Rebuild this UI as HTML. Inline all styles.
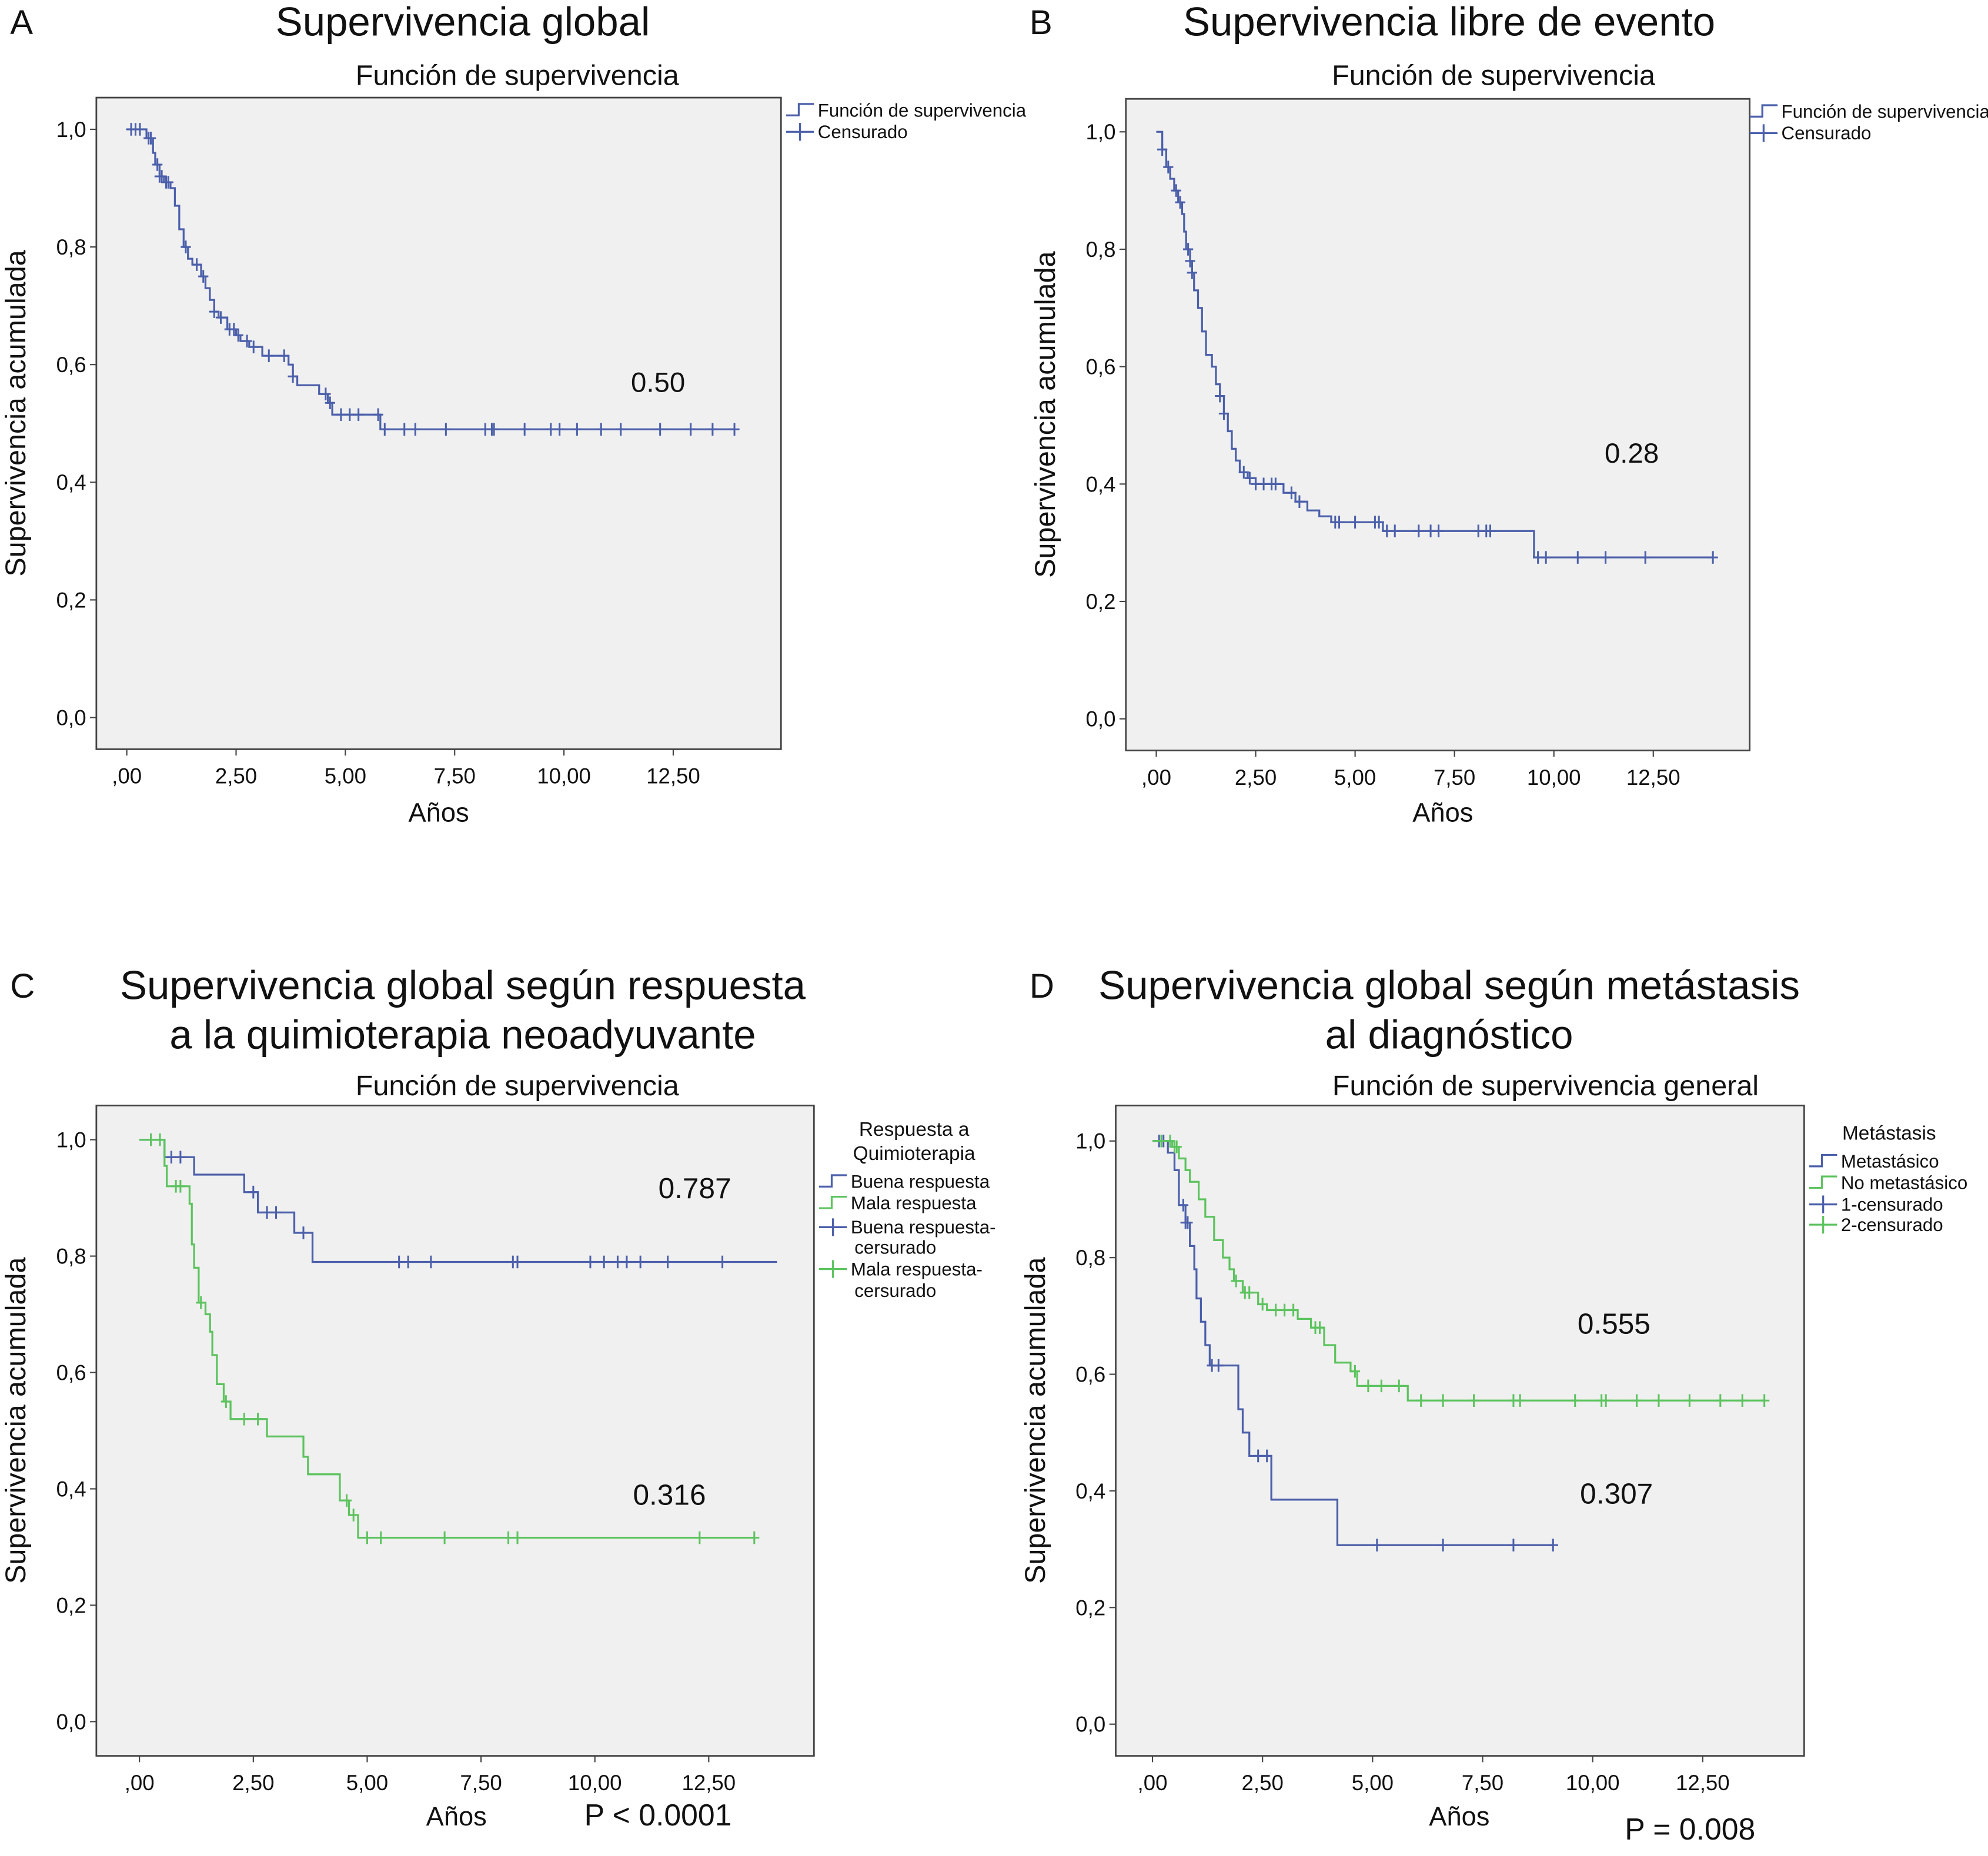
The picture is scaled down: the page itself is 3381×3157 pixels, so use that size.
<!DOCTYPE html>
<html><head><meta charset="utf-8">
<style>
html,body{margin:0;padding:0;background:#fff;}
svg{display:block;}
text{font-family:"Liberation Sans",Arial,sans-serif;fill:#111;}
</style></head>
<body>
<svg id="fig" width="3381" height="3157" viewBox="0 0 1568 1464" preserveAspectRatio="none" xmlns="http://www.w3.org/2000/svg"></svg>
<script>
// ---- Data (years, cumulative survival) ----
const xTicks = [0, 2.5, 5, 7.5, 10, 12.5];
const xTickLabels = [",00", "2,50", "5,00", "7,50", "10,00", "12,50"];
const yTicks = [0, 0.2, 0.4, 0.6, 0.8, 1.0];
const yTickLabels = ["0,0", "0,2", "0,4", "0,6", "0,8", "1,0"];

const aTimes = [0,0.45,0.6,0.65,0.75,0.85,1.0,1.1,1.2,1.3,1.4,1.5,1.7,1.8,1.9,2.0,2.1,2.3,2.5,2.6,2.8,3.1,3.7,3.8,3.9,4.4,4.6,4.7,5.8];
const aSurv  = [1,0.985,0.96,0.94,0.92,0.91,0.90,0.87,0.83,0.80,0.78,0.77,0.75,0.73,0.71,0.69,0.68,0.66,0.65,0.64,0.63,0.615,0.60,0.58,0.565,0.55,0.535,0.515,0.49];
const aCens  = [0.1,0.2,0.3,0.5,0.55,0.7,0.75,0.8,0.9,0.95,1.35,1.6,1.75,2.0,2.15,2.35,2.45,2.55,2.75,2.9,3.25,3.6,3.8,4.55,4.65,4.9,5.1,5.3,5.75,5.9,6.35,6.6,7.3,8.2,8.35,8.4,9.1,9.7,9.9,10.3,10.85,11.3,12.2,12.9,13.4,13.9];

const bTimes = [0,0.15,0.25,0.35,0.45,0.55,0.65,0.7,0.75,0.85,0.9,0.95,1.05,1.15,1.25,1.4,1.5,1.6,1.7,1.8,1.9,2.0,2.1,2.3,2.5,3.2,3.5,3.8,4.1,4.4,5.7,9.5];
const bSurv  = [1,0.97,0.94,0.92,0.90,0.88,0.86,0.83,0.80,0.78,0.76,0.73,0.70,0.66,0.62,0.60,0.57,0.55,0.52,0.49,0.46,0.44,0.42,0.41,0.40,0.385,0.37,0.355,0.345,0.335,0.32,0.275];
const bCens  = [0.15,0.3,0.5,0.6,0.8,0.85,0.9,1.6,1.7,2.2,2.35,2.5,2.7,2.9,3.0,3.4,3.6,4.5,4.6,5.0,5.5,5.6,5.8,6.0,6.6,6.9,7.1,8.1,8.3,8.4,9.6,9.8,10.6,11.3,12.3,14.0];

const cGoodTimes = [0,0.55,1.2,2.3,2.6,3.4,3.8];
const cGoodSurv  = [1,0.97,0.94,0.91,0.875,0.84,0.79];
const cGoodCens  = [0.7,0.9,2.5,2.8,3.0,3.6,5.7,5.9,6.4,8.2,8.3,9.9,10.2,10.5,10.7,11.0,11.6,12.8];
const cBadTimes = [0,0.55,0.6,1.1,1.15,1.2,1.3,1.45,1.55,1.6,1.7,1.85,2.0,2.8,3.6,3.7,4.4,4.6,4.8];
const cBadSurv  = [1,0.955,0.92,0.89,0.82,0.78,0.72,0.70,0.67,0.63,0.58,0.55,0.52,0.49,0.455,0.425,0.38,0.355,0.316];
const cBadCens  = [0.25,0.45,0.8,0.9,1.35,1.9,2.3,2.6,4.55,4.7,5.0,5.3,6.7,8.1,8.3,12.3,13.5];

const dMetTimes = [0,0.35,0.5,0.6,0.75,0.85,0.95,1.0,1.1,1.2,1.3,1.95,2.05,2.2,2.7,4.2];
const dMetSurv  = [1,0.98,0.95,0.89,0.86,0.82,0.78,0.73,0.69,0.65,0.615,0.54,0.50,0.46,0.385,0.307];
const dMetCens  = [0.15,0.25,0.7,0.75,0.8,1.35,1.5,2.4,2.6,5.1,6.6,8.2,9.1];
const dNoTimes = [0,0.45,0.6,0.75,0.85,1.05,1.2,1.4,1.6,1.75,1.85,2.05,2.4,2.6,3.3,3.6,3.9,4.15,4.5,4.65,5.8];
const dNoSurv  = [1,0.99,0.97,0.95,0.93,0.90,0.87,0.83,0.80,0.78,0.76,0.74,0.72,0.71,0.695,0.68,0.65,0.62,0.605,0.58,0.555];
const dNoCens  = [0.2,0.4,0.5,0.55,1.9,2.1,2.2,2.5,2.8,3.0,3.2,3.7,3.8,4.6,4.9,5.2,5.6,6.1,6.6,7.3,8.2,8.35,9.6,10.2,10.3,11.0,11.5,12.2,12.9,13.4,13.9];

const BLUE = "#4b5faa", GREEN = "#5cc35e";
const svg = document.getElementById('fig');
const NS = "http://www.w3.org/2000/svg";
function el(tag, attrs, parent, txt){
  const e = document.createElementNS(NS, tag);
  for (const k in attrs) e.setAttribute(k, attrs[k]);
  if (txt !== undefined) e.textContent = txt;
  (parent || svg).appendChild(e);
  return e;
}
function survAt(times, surv, t){ let s = surv[0]; for (let i=0;i<times.length;i++){ if (times[i] <= t) s = surv[i]; } return s; }

function panel(p){
  const g = el('g', {});  
  const X = v => p.x0 + v * (p.x125 - p.x0) / 12.5;
  const Y = v => p.y0 + v * (p.y1 - p.y0);
  const fr = el('rect', {x:p.fx1, y:p.fy1, width:p.fx2-p.fx1, height:p.fy2-p.fy1, fill:'#f0f0f0', stroke:'#444', 'stroke-width':1.3}, g);
   
  yTicks.forEach((v,i)=>{
    el('line',{x1:p.fx1-5,x2:p.fx1,y1:Y(v),y2:Y(v),stroke:'#444','stroke-width':1},g);
    const t = el('text',{x:p.fx1-8,y:Y(v)+6,'font-size':17,'text-anchor':'end'},g,yTickLabels[i]);
     
  });
  xTicks.forEach((v,i)=>{
    el('line',{x1:X(v),x2:X(v),y1:p.fy2,y2:p.fy2+5,stroke:'#444','stroke-width':1},g);
    const t = el('text',{x:X(v),y:p.fy2+27,'font-size':17,'text-anchor':'middle'},g,xTickLabels[i]);
     
  });
  const yl = el('text',{x:0,y:0,'font-size':22.5,'text-anchor':'middle',transform:`translate(${p.fx1-56},${(p.fy1+p.fy2)/2-8}) rotate(-90)`},g,'Supervivencia acumulada');
   
  p.series.forEach(s=>{
    let d = `M${X(s.times[0])},${Y(s.surv[0])}`;
    for (let i=1;i<s.times.length;i++){ d += ` H${X(s.times[i])} V${Y(s.surv[i])}`; }
    d += ` H${X(s.end)}`;
    const ln = el('path',{d:d,fill:'none',stroke:s.color,'stroke-width':1.5},g);
     
    s.cens.forEach(t=>{
      const v = survAt(s.times, s.surv, t);
      const c = el('path',{d:`M${X(t)-4},${Y(v)} H${X(t)+4} M${X(t)},${Y(v)-5} V${Y(v)+5}`,stroke:s.color,'stroke-width':1.4},g);
       
    });
  });
  return g;
}
function txt(x,y,size,s,name,anchor){
  const t = el('text',{x:x,y:y,'font-size':size,'text-anchor':anchor||'start'},svg,s);
   
  return t;
}
function legendItem(x,y,color,type,label,size){
  const g = el('g',{});
   
  if (type==='step') el('path',{d:`M${x},${y+4} H${x+10} V${y-5} H${x+22}`,fill:'none',stroke:color,'stroke-width':1.5},g);
  else el('path',{d:`M${x},${y} H${x+22} M${x+11},${y-7} V${y+7}`,fill:'none',stroke:color,'stroke-width':1.5},g);
  el('text',{x:x+25,y:y+5,'font-size':size||14.5},g,label);
}

// Panel A
panel({id:'a',fx1:76,fx2:616,fy1:77,fy2:591,x0:100,x125:531,y0:566,y1:102,
  series:[{name:'global',color:BLUE,times:aTimes,surv:aSurv,cens:aCens,end:13.9}]});
txt(8,27,27,'A','panel-label-a'); txt(365,28,32,'Supervivencia global','panel-a-title','middle');
txt(408,67,22.5,'Función de supervivencia','panel-a-subtitle','middle');
legendItem(620,87,BLUE,'step','Función de supervivencia'); legendItem(620,104,BLUE,'cross','Censurado');
txt(519,309,22,'0.50','panel-a-annotation','middle');
txt(346,648,21,'Años','x-axis-title','middle');

// Panel B
panel({id:'b',fx1:888,fx2:1380,fy1:78,fy2:592,x0:912,x125:1304,y0:567,y1:104,
  series:[{name:'event-free',color:BLUE,times:bTimes,surv:bSurv,cens:bCens,end:14.0}]});
txt(812,27,27,'B','panel-label-b'); txt(1143,28,32,'Supervivencia libre de evento','panel-b-title','middle');
txt(1178,67,22.5,'Función de supervivencia','panel-b-subtitle','middle');
legendItem(1380,88,BLUE,'step','Función de supervivencia'); legendItem(1380,105,BLUE,'cross','Censurado');
txt(1287,365,22,'0.28','panel-b-annotation','middle');
txt(1138,648,21,'Años','x-axis-title','middle');

// Panel C
panel({id:'c',fx1:76,fx2:642,fy1:872,fy2:1385,x0:110,x125:559,y0:1358,y1:899,
  series:[{name:'buena-respuesta',color:BLUE,times:cGoodTimes,surv:cGoodSurv,cens:cGoodCens,end:14.0},
          {name:'mala-respuesta',color:GREEN,times:cBadTimes,surv:cBadSurv,cens:cBadCens,end:13.5}]});
txt(8,787,27,'C','panel-label-c'); txt(365,788,32,'Supervivencia global según respuesta','panel-c-title','middle');
txt(365,827,32,'a la quimioterapia neoadyuvante','panel-c-title-line2','middle');
txt(408,864,22.5,'Función de supervivencia','panel-c-subtitle','middle');
txt(721,896,15.5,'Respuesta a','legend-title','middle'); txt(721,915,15.5,'Quimioterapia','legend-title','middle');
legendItem(646,932,BLUE,'step','Buena respuesta'); legendItem(646,949,GREEN,'step','Mala respuesta');
legendItem(646,968,BLUE,'cross','Buena respuesta-'); txt(674,989,14.5,'cersurado','legend-label');
legendItem(646,1001,GREEN,'cross','Mala respuesta-'); txt(674,1023,14.5,'cersurado','legend-label');
txt(548,945,23,'0.787','panel-c-annotation-good','middle');
txt(528,1187,23,'0.316','panel-c-annotation-bad','middle');
txt(360,1440,21,'Años','x-axis-title','middle');
txt(519,1440,24,'P < 0.0001','panel-c-p-value','middle');

// Panel D
panel({id:'d',fx1:880,fx2:1423,fy1:872,fy2:1385,x0:909,x125:1343,y0:1360,y1:900,
  series:[{name:'metastasico',color:BLUE,times:dMetTimes,surv:dMetSurv,cens:dMetCens,end:9.1},
          {name:'no-metastasico',color:GREEN,times:dNoTimes,surv:dNoSurv,cens:dNoCens,end:13.9}]});
txt(812,787,27,'D','panel-label-d'); txt(1143,788,32,'Supervivencia global según metástasis','panel-d-title','middle');
txt(1143,827,32,'al diagnóstico','panel-d-title-line2','middle');
txt(1219,864,22.5,'Función de supervivencia general','panel-d-subtitle','middle');
txt(1490,899,15.5,'Metástasis','legend-title','middle');
legendItem(1427,916,BLUE,'step','Metastásico'); legendItem(1427,933,GREEN,'step','No metastásico');
legendItem(1427,950,BLUE,'cross','1-censurado'); legendItem(1427,966,GREEN,'cross','2-censurado');
txt(1273,1052,23,'0.555','panel-d-annotation-no','middle');
txt(1275,1186,23,'0.307','panel-d-annotation-met','middle');
txt(1151,1440,21,'Años','x-axis-title','middle');
txt(1333,1451,24,'P = 0.008','panel-d-p-value','middle');
</script>
</body></html>
